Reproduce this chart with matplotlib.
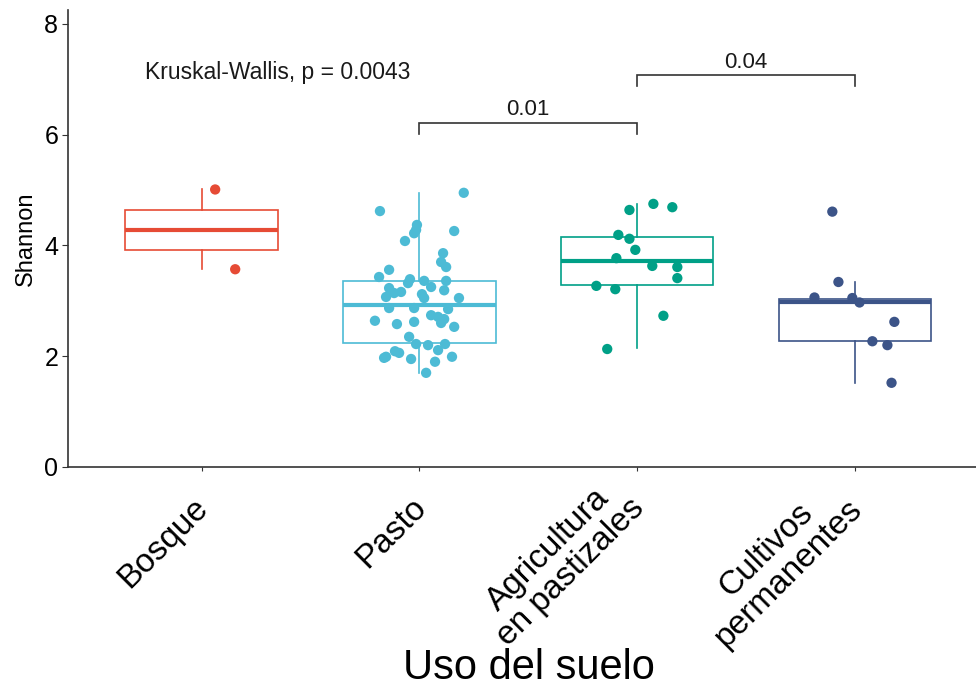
import matplotlib
matplotlib.use("Agg")
import matplotlib.pyplot as plt
import matplotlib.transforms as mtransforms

plt.rcParams["font.family"] = ["Liberation Sans", "DejaVu Sans"]

# ── Data ─────────────────────────────────────────────────────────────────────
categories = ["Bosque", "Pasto", "Agricultura\nen pastizales", "Cultivos\npermanentes"]
colors = ["#E64B35", "#4DBBD5", "#00A087", "#3C5488"]

# box statistics: lower whisker, Q1, median, Q3, upper whisker
whislo = [3.57, 1.70, 2.15, 1.52]
q1     = [3.92, 2.24, 3.29, 2.28]
med    = [4.28, 2.93, 3.71, 2.98]
q3     = [4.64, 3.36, 4.16, 3.04]
whishi = [5.01, 4.95, 4.74, 3.34]

# jittered points: (offset from group centre, Shannon value)
bosque_jit = [0.062, 0.154]
bosque_val = [5.01, 3.57]

pasto_jit = [0.204, -0.181, -0.011, -0.015, -0.024, 0.160, -0.066, 0.109, 0.100,
             0.123, -0.139, -0.185, -0.043, 0.022, 0.123, -0.052, 0.054, -0.139,
             -0.084, -0.116, 0.114, 0.012, -0.153, 0.022, 0.182, -0.139, -0.024,
             0.132, 0.054, 0.086, 0.114, -0.204, -0.024, 0.100, -0.103, 0.160,
             -0.047, -0.015, 0.040, 0.118, 0.086, -0.112, -0.093, -0.153, -0.162,
             -0.038, 0.150, 0.072, 0.031]
pasto_val = [4.95, 4.62, 4.37, 4.28, 4.22, 4.26, 4.08, 3.86, 3.70,
             3.61, 3.56, 3.43, 3.39, 3.36, 3.36, 3.32, 3.25, 3.23,
             3.16, 3.14, 3.19, 3.12, 3.07, 3.05, 3.05, 2.87, 2.87,
             2.85, 2.74, 2.71, 2.67, 2.64, 2.62, 2.60, 2.58, 2.53,
             2.35, 2.22, 2.20, 2.22, 2.11, 2.09, 2.06, 1.99, 1.97,
             1.95, 1.99, 1.90, 1.70]

agri_jit = [-0.035, 0.075, 0.162, -0.086, -0.035, -0.008, -0.095, 0.070, 0.185,
            0.185, -0.187, -0.100, 0.121, -0.137]
agri_val = [4.64, 4.75, 4.69, 4.19, 4.12, 3.92, 3.77, 3.63, 3.61,
            3.41, 3.27, 3.21, 2.73, 2.13]

cult_jit = [-0.103, -0.075, -0.185, -0.011, 0.022, 0.182, 0.081, 0.150, 0.169]
cult_val = [4.61, 3.34, 3.06, 3.05, 2.97, 2.62, 2.27, 2.20, 1.52]

jitters = [bosque_jit, pasto_jit, agri_jit, cult_jit]
values = [bosque_val, pasto_val, agri_val, cult_val]

# pairwise comparisons: (group a, group b, bracket height, label)
comp_a = [2, 3]
comp_b = [3, 4]
comp_y = [6.21, 7.07]
comp_lab = ["0.01", "0.04"]

# ── Figure ───────────────────────────────────────────────────────────────────
fig = plt.figure(figsize=(9.76, 6.89), dpi=100, facecolor="white")
ax = fig.add_axes([68 / 976, 222 / 689, 1 - 68 / 976, 457 / 689])

positions = list(range(1, len(categories) + 1))
stats = []
for i in range(len(categories)):
    stats.append(dict(whislo=whislo[i], q1=q1[i], med=med[i], q3=q3[i],
                      whishi=whishi[i], label=categories[i]))

bp = ax.bxp(stats, positions=positions, widths=0.7, showcaps=False,
            showfliers=False, patch_artist=True)
for i, c in enumerate(colors):
    bp["boxes"][i].set(facecolor="white", edgecolor=c, linewidth=1.2)
    bp["medians"][i].set(color=c, linewidth=3)
    bp["whiskers"][2 * i].set(color=c, linewidth=1.2)
    bp["whiskers"][2 * i + 1].set(color=c, linewidth=1.2)

for i, c in enumerate(colors):
    xs = [positions[i] + j for j in jitters[i]]
    ax.scatter(xs, values[i], s=55, color=c, edgecolors="none", zorder=4)

# comparison brackets
for a, b, y, lab in zip(comp_a, comp_b, comp_y, comp_lab):
    ax.plot([a, a, b, b], [y - 0.2, y, y, y - 0.2], color="#333333",
            linewidth=1.2, solid_joinstyle="miter")
    ax.text((a + b) / 2, y + 0.05, lab, ha="center", va="bottom",
            fontsize=16, color="#1a1a1a")

ax.text(0.74, 7.13, "Kruskal-Wallis, p = 0.0043", ha="left", va="center",
        fontsize=16.5, color="#1a1a1a")

ax.set_xlim(0.386, 4.557)
ax.set_ylim(0, 8.25)
ax.set_yticks([0, 2, 4, 6, 8])
ax.set_xticks(positions)
ax.set_xticklabels(categories, rotation=45, ha="right", va="baseline",
                   rotation_mode="anchor", multialignment="center",
                   fontsize=24, linespacing=1.05)
ax.tick_params(axis="y", labelsize=18, length=4, color="#333333", pad=3)
ax.tick_params(axis="x", length=3, color="#333333", pad=0)

# shift the rotated labels so that the last line ends below-right of the tick
shift = mtransforms.ScaledTranslation(8 / 100, -38 / 100, fig.dpi_scale_trans)
for lbl in ax.get_xticklabels():
    lbl.set_transform(lbl.get_transform() + shift)

ax.set_ylabel("Shannon", fontsize=17, labelpad=5)

for s in ["top", "right"]:
    ax.spines[s].set_visible(False)
for s in ["left", "bottom"]:
    ax.spines[s].set_color("#333333")
    ax.spines[s].set_linewidth(1.2)

fig.text(529 / 976, 1 / 689, "Uso del suelo", ha="center", va="bottom",
         fontsize=30)

fig.savefig("out.png", dpi=100, facecolor="white")
